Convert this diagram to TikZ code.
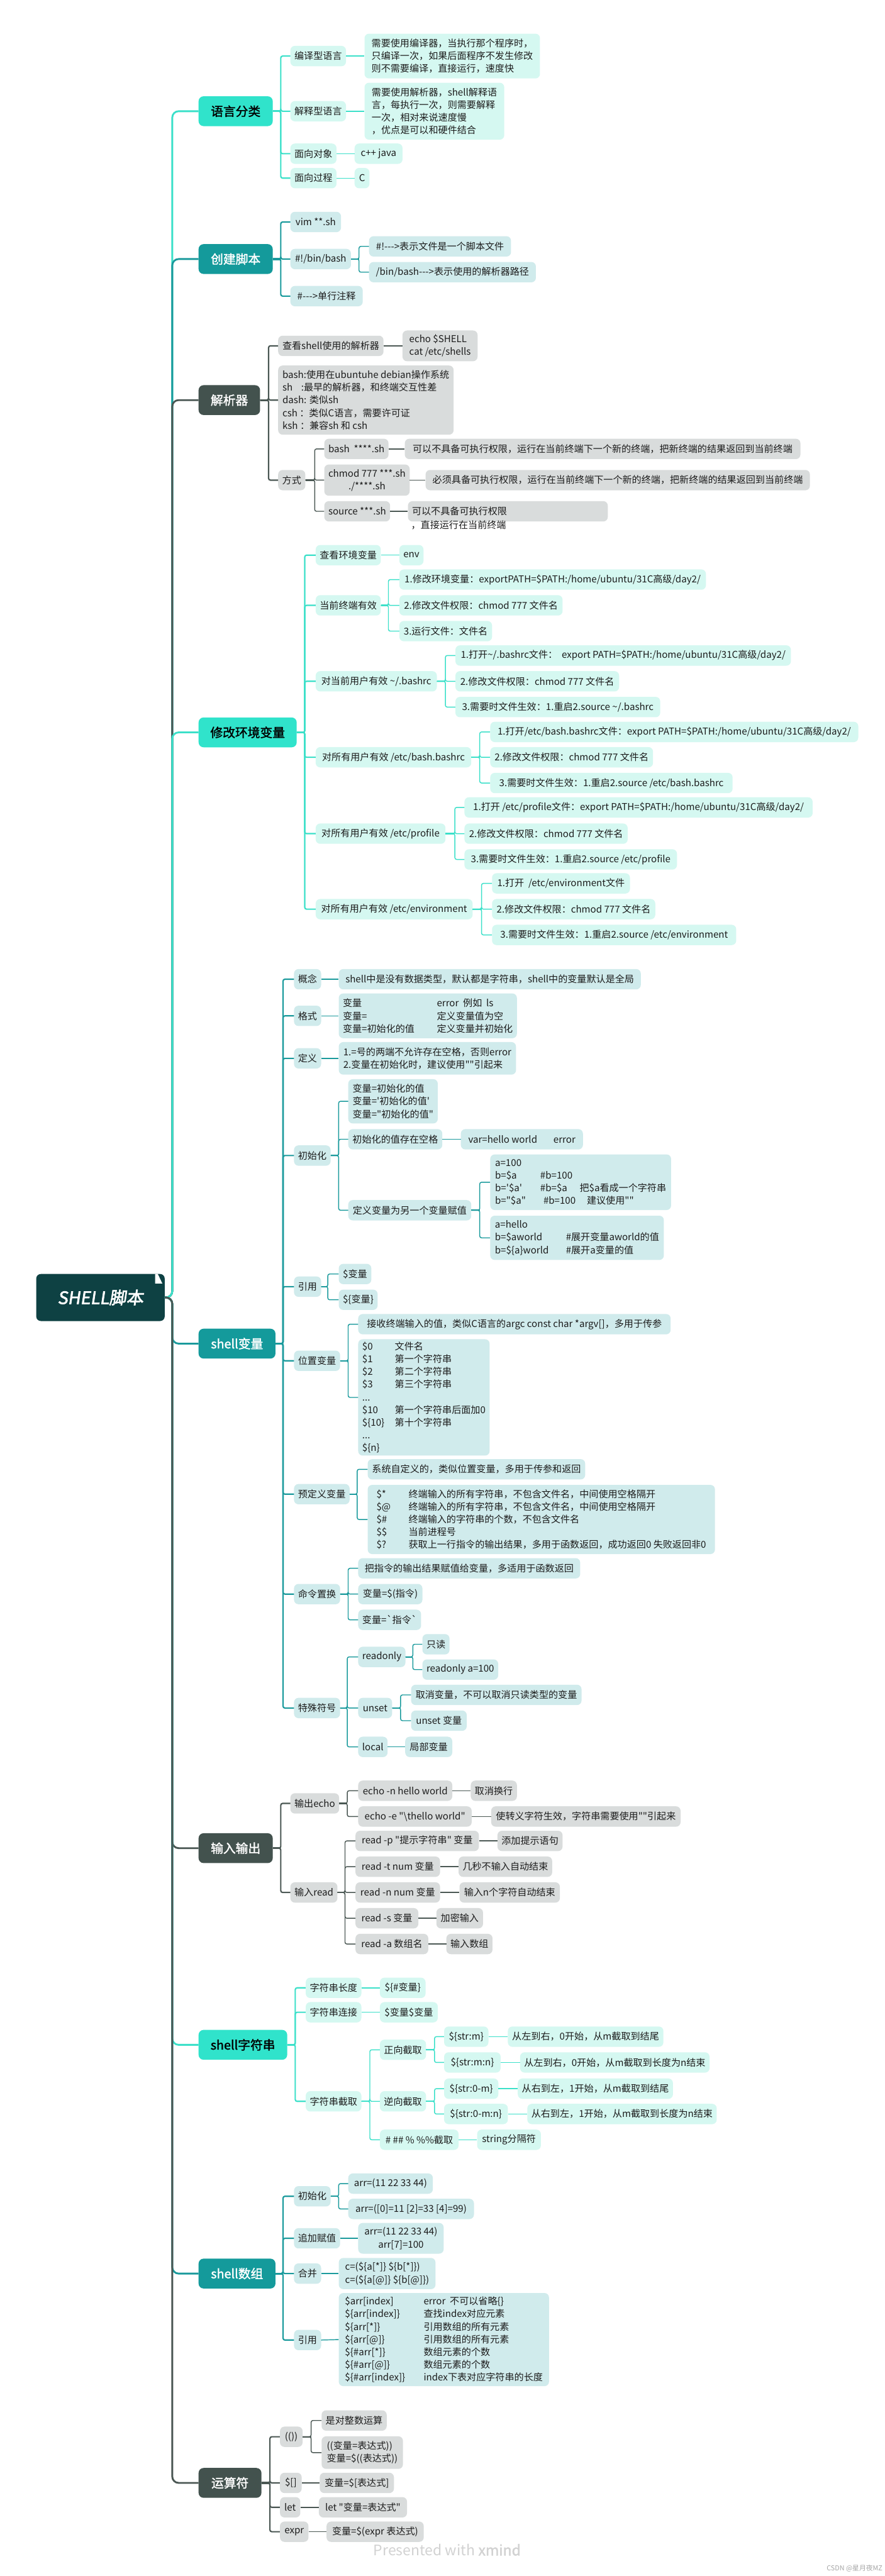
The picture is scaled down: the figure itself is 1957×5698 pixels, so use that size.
\documentclass[tikz,border=0pt]{standalone}
\usepackage{fontspec}
\newfontfamily\cjk{Noto Sans CJK SC}
\newfontfamily\cjkb[FakeBold=1.6]{Noto Sans CJK SC}
\newfontfamily\rootf[FakeBold=2.4,FakeSlant=0.15]{Noto Sans CJK SC}
\definecolor{mintF}{HTML}{30E3CB}
\definecolor{mintC}{HTML}{3BE0C9}
\definecolor{mintL}{HTML}{D5F8F1}
\definecolor{tealF}{HTML}{149A9B}
\definecolor{tealC}{HTML}{1A9A9C}
\definecolor{tealL}{HTML}{D0EBEC}
\definecolor{darkF}{HTML}{43524E}
\definecolor{darkC}{HTML}{4A5753}
\definecolor{darkL}{HTML}{D9DCDC}
\definecolor{rootF}{HTML}{0E4143}
\definecolor{txtC}{HTML}{1C1C1C}
\definecolor{wmC}{HTML}{D2D2D2}
\newcommand\mnode[6][]{\node[#2,minimum width=#5pt,#1] (#3) at (#4) {#6};}
\newcommand\fan[6]{%
  \draw[#1,#3] (#4.east) -- (#4.east -| #5);
  \foreach \ch in {#6}{\draw[#1,#2] (#4.east) -- (#4.east -| #5) |- (\ch.west);}%
}
\newcommand\dlk[3]{\draw[#1,line width=2pt] (#2.east) -- (#3.west);}
\tikzset{
  mbox/.style={anchor=west, rounded corners=10pt, inner xsep=9pt, inner ysep=6pt, minimum height=45pt, font=\cjk\fontsize{21}{28}\selectfont, text=txtC},
  bm/.style={mbox, fill=mintL}, bt/.style={mbox, fill=tealL}, bd/.style={mbox, fill=darkL},
  mtop/.style={anchor=west, rounded corners=11pt, inner xsep=12pt, minimum height=66pt, font=\cjkb\fontsize{27.5}{32}\selectfont},
  tm/.style={mtop, fill=mintF, text=black}, tt/.style={mtop, fill=tealF, text=white}, td/.style={mtop, fill=darkF, text=white},
  w1/.style={line width=3pt, rounded corners=4pt}, w1s/.style={line width=4.5pt},
  w2/.style={line width=2pt, rounded corners=4pt}, w2s/.style={line width=3pt},
  rl/.style={line width=4pt, rounded corners=14pt},
}
\begin{document}
\begin{tikzpicture}[x=1pt,y=-1pt]
\fill[white] (0,0) rectangle (1957,5698);
\useasboundingbox (0,0) rectangle (1957,5698);

% trunk coordinates
\coordinate (T0) at (381,0);
\coordinate (tA) at (621,0);
\coordinate (tB) at (621,0);
\coordinate (tB2) at (794,0);
\coordinate (tC) at (594,0);
\coordinate (tC3) at (696,0);
\coordinate (tD) at (674,0);
\coordinate (tD2) at (859,0);
\coordinate (tD3) at (985,0);
\coordinate (tD4) at (1061,0);
\coordinate (tD5) at (1006,0);
\coordinate (tD6) at (1065,0);
\coordinate (tE) at (626,0);
\coordinate (tE4) at (749,0);
\coordinate (tE4c) at (1061,0);
\coordinate (tE5) at (725,0);
\coordinate (tE6) at (770,0);
\coordinate (tE7) at (790,0);
\coordinate (tE8) at (770,0);
\coordinate (tE9) at (768,0);
\coordinate (tE9a) at (913,0);
\coordinate (tE9b) at (886,0);
\coordinate (tF) at (621,0);
\coordinate (tF1) at (768,0);
\coordinate (tF2) at (763,0);
\coordinate (tG) at (653,0);
\coordinate (tG3) at (818,0);
\coordinate (tG3a) at (961,0);
\coordinate (tG3b) at (961,0);
\coordinate (tH) at (626,0);
\coordinate (tH1) at (749,0);
\coordinate (tI) at (597,0);
\coordinate (tI1) at (688,0);

% root
\node[anchor=west, fill=rootF, rounded corners=10pt, minimum width=284pt, minimum height=104pt, text=white, font=\rootf\fontsize{38}{44}\selectfont] (R) at (80,2870) {SHELL脚本};
\fill[white] (343,2818) -- (349,2818) -- (359,2839) -- (343,2839) -- cycle;

% ===== 语言分类
\mnode{tm}{A}{439,246}{164}{语言分类}
\mnode{bm}{A1}{642,124}{123}{编译型语言}
\mnode{bm}{A2}{642,246}{123}{解释型语言}
\mnode{bm}{A3}{642,340}{102}{面向对象}
\mnode{bm}{A4}{642,394}{102}{面向过程}
\mnode[align=left,minimum height=99pt]{bm}{A1a}{806,124}{388}{需要使用编译器，当执行那个程序时，\\只编译一次，如果后面程序不发生修改\\则不需要编译，直接运行，速度快}
\mnode[align=left,minimum height=126pt]{bm}{A2a}{806,246}{309}{需要使用解析器，shell解释语\\言，每执行一次，则需要解释\\一次，相对来说速度慢\\，优点是可以和硬件结合}
\mnode{bm}{A3a}{784,340}{106}{c++ java}
\mnode{bm}{A4a}{784,394}{33}{C}

% ===== 创建脚本
\mnode{tt}{B}{439,573}{164}{创建脚本}
\mnode{bt}{B1}{642,491}{112}{vim **.sh}
\mnode{bt}{B2}{642,573}{134}{\#!/bin/bash}
\mnode{bt}{B3}{642,655}{160}{\#--->单行注释}
\mnode{bt}{B2a}{816,545}{314}{\#!--->表示文件是一个脚本文件}
\mnode{bt}{B2b}{816,602}{369}{/bin/bash--->表示使用的解析器路径}

% ===== 解析器
\mnode{td}{C}{439,885}{136}{解析器}
\mnode{bd}{C1}{615,765}{233}{查看shell使用的解析器}
\mnode[align=left,minimum height=68pt]{bd}{C1a}{890,765}{166}{echo \$SHELL\\cat /etc/shells}
\mnode[align=left,minimum height=153pt]{bd}{C2}{615,885}{388}{bash:使用在ubuntuhe debian操作系统\\sh\ \ \ \ :最早的解析器，和终端交互性差\\dash: 类似sh\\csh\ ：类似C语言，需要许可证\\ksh\ ：兼容sh 和 csh}
\mnode{bd}{C3}{615,1062}{59}{方式}
\mnode{bd}{C3a}{717,993}{137}{bash\ \ ****.sh}
\mnode{bd}{C3a1}{895,993}{875}{可以不具备可执行权限，运行在当前终端下一个新的终端，把新终端的结果返回到当前终端}
\mnode[align=center,minimum height=69pt]{bd}{C3b}{717,1062}{184}{chmod 777 ***.sh\\./****.sh}
\mnode{bd}{C3b1}{941,1062}{850}{必须具备可执行权限，运行在当前终端下一个新的终端，把新终端的结果返回到当前终端}
\mnode{bd}{C3c}{717,1131}{144}{source ***.sh}
\mnode{bd}{C3c1}{902,1131}{442}{\makebox[424pt][l]{可以不具备可执行权限}}
\node[anchor=west, inner sep=0pt, font=\cjk\fontsize{21}{28}\selectfont, text=txtC] (C3c1b) at (909,1161) {，直接运行在当前终端};

% ===== 修改环境变量
\mnode{tm}{D}{439,1620}{217}{修改环境变量}
\mnode{bm}{D1}{698,1228}{143}{查看环境变量}
\mnode{bm}{D1a}{883,1228}{50}{env}
\mnode{bm}{D2}{698,1339}{143}{当前终端有效}
\mnode{bm}{D2a}{883,1282}{678}{1.修改环境变量：exportPATH=\$PATH:/home/ubuntu/31C高级/day2/}
\mnode{bm}{D2b}{883,1339}{361}{2.修改文件权限：chmod 777 文件名}
\mnode{bm}{D2c}{883,1396}{205}{3.运行文件：文件名}
\mnode{bm}{D3}{698,1507}{268}{对当前用户有效 \string~/.bashrc}
\mnode{bm}{D3a}{1007,1450}{742}{1.打开\string~/.bashrc文件：\ \ export PATH=\$PATH:/home/ubuntu/31C高级/day2/}
\mnode{bm}{D3b}{1007,1507}{362}{2.修改文件权限：chmod 777 文件名}
\mnode{bm}{D3c}{1007,1564}{453}{3.需要时文件生效：1.重启2.source \string~/.bashrc}
\mnode{bm}{D4}{698,1675}{344}{对所有用户有效 /etc/bash.bashrc}
\mnode{bm}{D4a}{1084,1619}{814}{1.打开/etc/bash.bashrc文件：export PATH=\$PATH:/home/ubuntu/31C高级/day2/}
\mnode{bm}{D4b}{1084,1675}{360}{2.修改文件权限：chmod 777 文件名}
\mnode{bm}{D4c}{1084,1732}{536}{3.需要时文件生效：1.重启2.source /etc/bash.bashrc}
\mnode{bm}{D5}{698,1844}{287}{对所有用户有效 /etc/profile}
\mnode{bm}{D5a}{1027,1786}{770}{1.打开 /etc/profile文件：export PATH=\$PATH:/home/ubuntu/31C高级/day2/}
\mnode{bm}{D5b}{1027,1844}{361}{2.修改文件权限：chmod 777 文件名}
\mnode{bm}{D5c}{1027,1901}{470}{3.需要时文件生效：1.重启2.source /etc/profile}
\mnode{bm}{D6}{698,2011}{347}{对所有用户有效 /etc/environment}
\mnode{bm}{D6a}{1088,1954}{305}{1.打开\ \ /etc/environment文件}
\mnode{bm}{D6b}{1088,2011}{361}{2.修改文件权限：chmod 777 文件名}
\mnode{bm}{D6c}{1088,2068}{540}{3.需要时文件生效：1.重启2.source /etc/environment}

% ===== shell变量
\mnode{tt}{E}{439,2972}{170}{shell变量}
\mnode{bt}{E1}{650,2166}{57}{概念}
\mnode{bt}{E1a}{749,2166}{668}{shell中是没有数据类型，默认都是字符串，shell中的变量默认是全局}
\mnode{bt}{E2}{650,2247}{57}{格式}
\mnode[align=left,minimum height=99pt]{bt}{E2a}{749,2247}{392}{\makebox[208pt][l]{变量}error\ \ 例如\ \ ls\\\makebox[208pt][l]{变量=}定义变量值为空\\\makebox[208pt][l]{变量=初始化的值}定义变量并初始化}
\mnode{bt}{E3}{650,2341}{57}{定义}
\mnode[align=left,minimum height=72pt]{bt}{E3a}{749,2341}{392}{1.=号的两端不允许存在空格，否则error\\2.变量在初始化时，建议使用""引起来}
\mnode{bt}{E4}{650,2556}{80}{初始化}
\mnode[align=left,minimum height=98pt]{bt}{E4a}{770,2436}{198}{变量=初始化的值\\变量='初始化的值'\\变量="初始化的值"}
\mnode{bt}{E4b}{770,2520}{208}{初始化的值存在空格}
\mnode{bt}{E4b1}{1019,2520}{270}{var=hello world\hspace{36pt}error}
\mnode{bt}{E4c}{770,2677}{272}{定义变量为另一个变量赋值}
\mnode[align=left,minimum height=123pt]{bt}{E4c1}{1084,2615}{400}{a=100\\\makebox[100pt][l]{b=\$a}\#b=100\\\makebox[100pt][l]{b='\$a'}\makebox[87pt][l]{\#b=\$a}把\$a看成一个字符串\\\makebox[107pt][l]{b="\$a"}\makebox[96pt][l]{\#b=100}建议使用""}
\mnode[align=left,minimum height=98pt]{bt}{E4c2}{1084,2738}{384}{a=hello\\\makebox[157pt][l]{b=\$aworld}\#展开变量aworld的值\\\makebox[157pt][l]{b=\$\{a\}world}\#展开a变量的值}
\mnode{bt}{E5}{650,2846}{57}{引用}
\mnode{bt}{E5a}{749,2818}{72}{\$变量}
\mnode{bt}{E5b}{749,2875}{86}{\$\{变量\}}
\mnode{bt}{E6}{650,3010}{99}{位置变量}
\mnode{bt}{E6a}{792,2929}{691}{接收终端输入的值，类似C语言的argc const char *argv[]，多用于传参}
\mnode[align=left,minimum height=254pt]{bt}{E6b}{792,3091}{288}{\makebox[72pt][l]{\$0}文件名\\\makebox[72pt][l]{\$1}第一个字符串\\\makebox[72pt][l]{\$2}第二个字符串\\\makebox[72pt][l]{\$3}第三个字符串\\...\\\makebox[72pt][l]{\$10}第一个字符串后面加0\\\makebox[72pt][l]{\$\{10\}}第十个字符串\\...\\\$\{n\}}
\mnode{bt}{E7}{650,3305}{120}{预定义变量}
\mnode{bt}{E7a}{813,3250}{481}{系统自定义的，类似位置变量，多用于传参和返回}
\mnode[align=left,minimum height=153pt]{bt}{E7b}{813,3361}{768}{\makebox[71pt][l]{\$*}终端输入的所有字符串，不包含文件名，中间使用空格隔开\\\makebox[71pt][l]{\$@}终端输入的所有字符串，不包含文件名，中间使用空格隔开\\\makebox[71pt][l]{\$\#}终端输入的字符串的个数，不包含文件名\\\makebox[71pt][l]{\$\$}当前进程号\\\makebox[71pt][l]{\$?}获取上一行指令的输出结果，多用于函数返回，成功返回0 失败返回非0}
\mnode{bt}{E8}{650,3526}{99}{命令置换}
\mnode{bt}{E8a}{792,3469}{491}{把指令的输出结果赋值给变量，多适用于函数返回}
\mnode{bt}{E8b}{792,3526}{142}{变量=\$(指令)}
\mnode{bt}{E8c}{792,3583}{139}{变量=`指令`}
\mnode{bt}{E9}{650,3778}{99}{特殊符号}
\mnode{bt}{E9a}{792,3665}{101}{readonly}
\mnode{bt}{E9a1}{934,3637}{59}{只读}
\mnode{bt}{E9a2}{934,3693}{165}{readonly a=100}
\mnode{bt}{E9b}{792,3778}{75}{unset}
\mnode{bt}{E9b1}{909,3749}{377}{取消变量，不可以取消只读类型的变量}
\mnode{bt}{E9b2}{909,3806}{123}{unset 变量}
\mnode{bt}{E9c}{792,3864}{64}{local}
\mnode{bt}{E9c1}{896,3864}{104}{局部变量}

% ===== 输入输出
\mnode{td}{F}{439,4088}{164}{输入输出}
\mnode{bd}{F1}{642,3989}{107}{输出echo}
\mnode{bd}{F1a}{792,3961}{208}{echo -n hello world}
\mnode{bd}{F1a1}{1041,3961}{101}{取消换行}
\mnode{bd}{F1b}{792,4018}{251}{echo -e "\textbackslash thello world"}
\mnode{bd}{F1b1}{1086,4018}{419}{使转义字符生效，字符串需要使用""引起来}
\mnode{bd}{F2}{642,4186}{102}{输入read}
\mnode{bd}{F2a}{786,4072}{273}{read -p "提示字符串" 变量}
\mnode{bd}{F2a1}{1100,4072}{143}{添加提示语句}
\mnode{bd}{F2b}{786,4129}{187}{read -t num 变量}
\mnode{bd}{F2b1}{1014,4129}{207}{几秒不输入自动结束}
\mnode{bd}{F2c}{786,4186}{187}{read -n num 变量}
\mnode{bd}{F2c1}{1016,4186}{222}{输入n个字符自动结束}
\mnode{bd}{F2d}{786,4243}{139}{read -s 变量}
\mnode{bd}{F2d1}{965,4243}{103}{加密输入}
\mnode{bd}{F2e}{786,4300}{161}{read -a 数组名}
\mnode{bd}{F2e1}{987,4300}{102}{输入数组}

% ===== shell字符串
\mnode{tm}{G}{439,4523}{196}{shell字符串}
\mnode{bm}{G1}{676,4397}{122}{字符串长度}
\mnode{bm}{G1a}{840,4397}{101}{\$\{\#变量\}}
\mnode{bm}{G2}{676,4451}{122}{字符串连接}
\mnode{bm}{G2a}{840,4451}{128}{\$变量\$变量}
\mnode{bm}{G3}{676,4648}{122}{字符串截取}
\mnode{bm}{G3a}{840,4534}{101}{正向截取}
\mnode{bm}{G3a1}{982,4505}{98}{\$\{str:m\}}
\mnode{bm}{G3a1x}{1123,4505}{344}{从左到右，0开始，从m截取到结尾}
\mnode{bm}{G3a2}{982,4562}{125}{\$\{str:m:n\}}
\mnode{bm}{G3a2x}{1150,4562}{419}{从左到右，0开始，从m截取到长度为n结束}
\mnode{bm}{G3b}{840,4648}{101}{逆向截取}
\mnode{bm}{G3b1}{982,4620}{120}{\$\{str:0-m\}}
\mnode{bm}{G3b1x}{1145,4620}{342}{从右到左，1开始，从m截取到结尾}
\mnode{bm}{G3b2}{982,4676}{141}{\$\{str:0-m:n\}}
\mnode{bm}{G3b2x}{1166,4676}{415}{从右到左，1开始，从m截取到长度为n结束}
\mnode{bm}{G3c}{840,4733}{174}{\#\ \#\#\ \%\ \%\%截取}
\mnode{bm}{G3c1}{1055,4733}{141}{string分隔符}

% ===== shell数组
\mnode{tt}{H}{439,5029}{170}{shell数组}
\mnode{bt}{H1}{650,4858}{80}{初始化}
\mnode{bt}{H1a}{770,4830}{187}{arr=(11 22 33 44)}
\mnode{bt}{H1b}{770,4886}{278}{arr=([0]=11 [2]=33 [4]=99)}
\mnode{bt}{H2}{650,4951}{99}{追加赋值}
\mnode[align=center,minimum height=68pt]{bt}{H2a}{792,4951}{189}{arr=(11 22 33 44)\\arr[7]=100}
\mnode{bt}{H3}{650,5029}{57}{合并}
\mnode[align=left,minimum height=69pt]{bt}{H3a}{749,5029}{214}{c=(\$\{a[*]\} \$\{b[*]\})\\c=(\$\{a[@]\} \$\{b[@]\})}
\mnode{bt}{H4}{650,5176}{57}{引用}
\mnode[align=left,minimum height=206pt]{bt}{H4a}{749,5175}{465}{\makebox[174pt][l]{\$arr[index]}error\ \ 不可以省略\{\}\\\makebox[174pt][l]{\$\{arr[index]\}}查找index对应元素\\\makebox[174pt][l]{\$\{arr[*]\}}引用数组的所有元素\\\makebox[174pt][l]{\$\{arr[@]\}}引用数组的所有元素\\\makebox[174pt][l]{\$\{\#arr[*]\}}数组元素的个数\\\makebox[174pt][l]{\$\{\#arr[@]\}}数组元素的个数\\\makebox[174pt][l]{\$\{\#arr[index]\}}index下表对应字符串的长度}

% ===== 运算符
\mnode{td}{I}{439,5492}{139}{运算符}
\mnode{bd}{I1}{619,5390}{50}{(())}
\mnode{bd}{I1a}{711,5354}{144}{是对整数运算}
\mnode[align=left,minimum height=72pt]{bd}{I1b}{711,5425}{180}{((变量=表达式))\\变量=\$((表达式))}
\mnode{bd}{I2}{619,5492}{48}{\$[]}
\mnode{bd}{I2a}{707,5492}{164}{变量=\$[表达式]}
\mnode{bd}{I3}{619,5546}{45}{let}
\mnode{bd}{I3a}{705,5546}{195}{let "变量=表达式"}
\mnode{bd}{I4}{619,5600}{63}{expr}
\mnode{bd}{I4a}{722,5600}{215}{变量=\$(expr 表达式)}

% watermark
\node[font=\cjk\fontsize{32}{36}\selectfont, text=wmC] (wm) at (989,5640) {Presented with {\cjkb xmind}};
\node[anchor=east, font=\cjk\fontsize{15}{18}\selectfont, text=gray!70] (csdn) at (1955,5681) {CSDN @星月夜MZ};

% ===== root links (later on top)
\draw[mintC,rl] (R.east) -- (R.east -| T0) |- (A.west);
\draw[tealC,rl] (R.east) -- (R.east -| T0) |- (B.west);
\draw[darkC,rl] (R.east) -- (R.east -| T0) |- (C.west);
\draw[mintC,rl] (R.east) -- (R.east -| T0) |- (D.west);
\draw[tealC,rl] (R.east) -- (R.east -| T0) |- (E.west);
\draw[darkC,rl] (R.east) -- (R.east -| T0) |- (F.west);
\draw[mintC,rl] (R.east) -- (R.east -| T0) |- (G.west);
\draw[tealC,rl] (R.east) -- (R.east -| T0) |- (H.west);
\draw[darkC,rl] (R.east) -- (R.east -| T0) |- (I.west);

% ===== branch links
\fan{mintC}{w1}{w1s}{A}{tA}{A1,A2,A3,A4}
\dlk{mintC}{A1}{A1a} \dlk{mintC}{A2}{A2a} \dlk{mintC}{A3}{A3a} \dlk{mintC}{A4}{A4a}

\fan{tealC}{w1}{w1s}{B}{tB}{B1,B2,B3}
\fan{tealC}{w2}{w2s}{B2}{tB2}{B2a,B2b}

\fan{darkC}{w1}{w1s}{C}{tC}{C1,C2,C3}
\dlk{darkC}{C1}{C1a}
\fan{darkC}{w2}{w2s}{C3}{tC3}{C3a,C3b,C3c}
\dlk{darkC}{C3a}{C3a1} \dlk{darkC}{C3b}{C3b1} \dlk{darkC}{C3c}{C3c1}

\fan{mintC}{w1}{w1s}{D}{tD}{D1,D2,D3,D4,D5,D6}
\dlk{mintC}{D1}{D1a}
\fan{mintC}{w2}{w2s}{D2}{tD2}{D2a,D2b,D2c}
\fan{mintC}{w2}{w2s}{D3}{tD3}{D3a,D3b,D3c}
\fan{mintC}{w2}{w2s}{D4}{tD4}{D4a,D4b,D4c}
\fan{mintC}{w2}{w2s}{D5}{tD5}{D5a,D5b,D5c}
\fan{mintC}{w2}{w2s}{D6}{tD6}{D6a,D6b,D6c}

\fan{tealC}{w1}{w1s}{E}{tE}{E1,E2,E3,E4,E5,E6,E7,E8,E9}
\dlk{tealC}{E1}{E1a} \dlk{tealC}{E2}{E2a} \dlk{tealC}{E3}{E3a}
\fan{tealC}{w2}{w2s}{E4}{tE4}{E4a,E4b,E4c}
\dlk{tealC}{E4b}{E4b1}
\fan{tealC}{w2}{w2s}{E4c}{tE4c}{E4c1,E4c2}
\fan{tealC}{w2}{w2s}{E5}{tE5}{E5a,E5b}
\fan{tealC}{w2}{w2s}{E6}{tE6}{E6a,E6b}
\fan{tealC}{w2}{w2s}{E7}{tE7}{E7a,E7b}
\fan{tealC}{w2}{w2s}{E8}{tE8}{E8a,E8b,E8c}
\fan{tealC}{w2}{w2s}{E9}{tE9}{E9a,E9b,E9c}
\fan{tealC}{w2}{w2s}{E9a}{tE9a}{E9a1,E9a2}
\fan{tealC}{w2}{w2s}{E9b}{tE9b}{E9b1,E9b2}
\dlk{tealC}{E9c}{E9c1}

\fan{darkC}{w1}{w1s}{F}{tF}{F1,F2}
\fan{darkC}{w2}{w2s}{F1}{tF1}{F1a,F1b}
\dlk{darkC}{F1a}{F1a1} \dlk{darkC}{F1b}{F1b1}
\fan{darkC}{w2}{w2s}{F2}{tF2}{F2a,F2b,F2c,F2d,F2e}
\dlk{darkC}{F2a}{F2a1} \dlk{darkC}{F2b}{F2b1} \dlk{darkC}{F2c}{F2c1} \dlk{darkC}{F2d}{F2d1} \dlk{darkC}{F2e}{F2e1}

\fan{mintC}{w1}{w1s}{G}{tG}{G1,G2,G3}
\dlk{mintC}{G1}{G1a} \dlk{mintC}{G2}{G2a}
\fan{mintC}{w2}{w2s}{G3}{tG3}{G3a,G3b,G3c}
\fan{mintC}{w2}{w2s}{G3a}{tG3a}{G3a1,G3a2}
\dlk{mintC}{G3a1}{G3a1x} \dlk{mintC}{G3a2}{G3a2x}
\fan{mintC}{w2}{w2s}{G3b}{tG3b}{G3b1,G3b2}
\dlk{mintC}{G3b1}{G3b1x} \dlk{mintC}{G3b2}{G3b2x}
\dlk{mintC}{G3c}{G3c1}

\fan{tealC}{w1}{w1s}{H}{tH}{H1,H2,H3,H4}
\fan{tealC}{w2}{w2s}{H1}{tH1}{H1a,H1b}
\dlk{tealC}{H2}{H2a} \dlk{tealC}{H3}{H3a} \dlk{tealC}{H4}{H4a}

\fan{darkC}{w1}{w1s}{I}{tI}{I1,I2,I3,I4}
\fan{darkC}{w2}{w2s}{I1}{tI1}{I1a,I1b}
\dlk{darkC}{I2}{I2a} \dlk{darkC}{I3}{I3a} \dlk{darkC}{I4}{I4a}
\end{tikzpicture}
\end{document}
